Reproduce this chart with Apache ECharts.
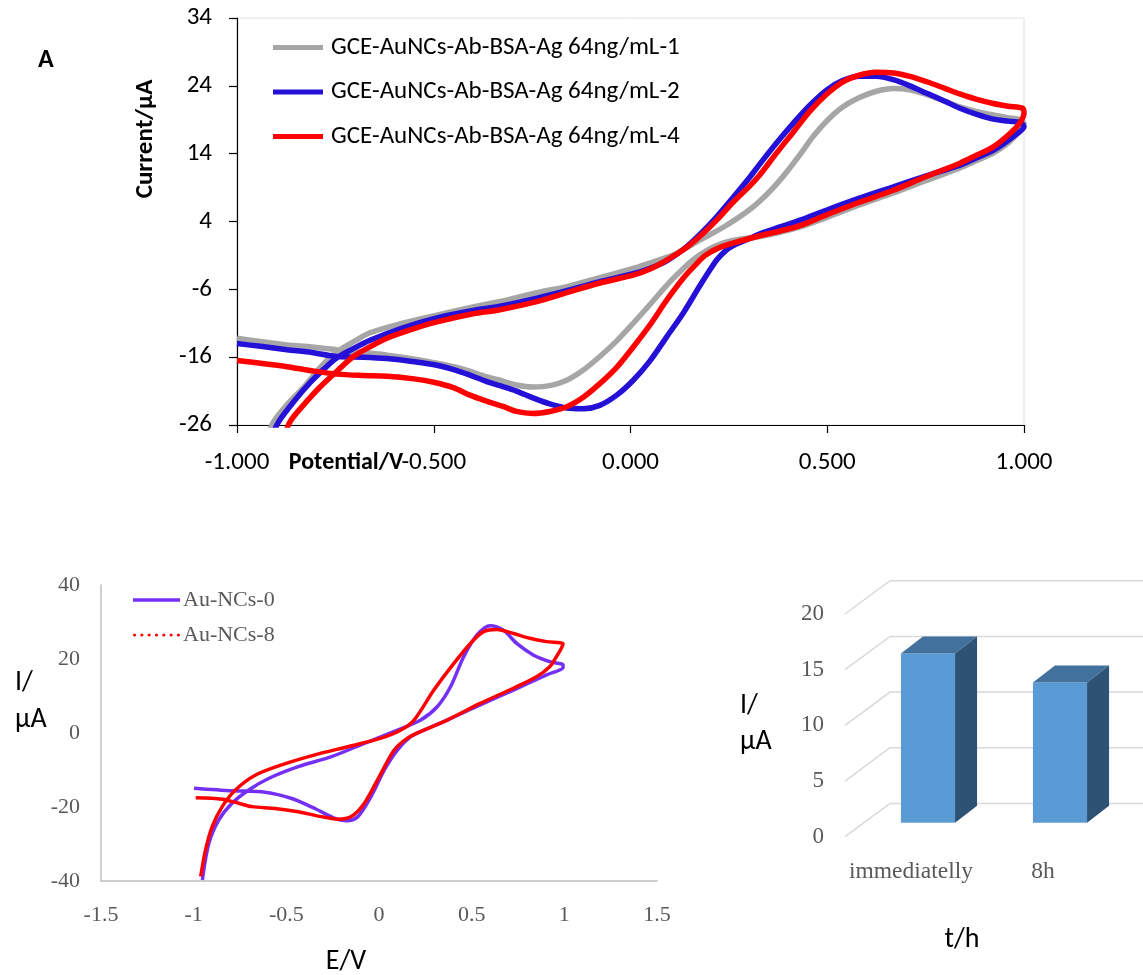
<!DOCTYPE html>
<html><head><meta charset="utf-8">
<script src="https://cdn.jsdelivr.net/npm/echarts@6/dist/echarts.min.js"></script>
<style>html,body{margin:0;padding:0;background:#fff}#c{width:1143px;height:975px}</style>
</head><body><div id="c"></div>
<script>
// ---------- Panel A (top) : cyclic voltammograms ----------
const topNames = ['GCE-AuNCs-Ab-BSA-Ag 64ng/mL-1', 'GCE-AuNCs-Ab-BSA-Ag 64ng/mL-2', 'GCE-AuNCs-Ab-BSA-Ag 64ng/mL-4'];
const topXTicks = [-1, -0.5, 0, 0.5, 1];
const topYTicks = [-26, -16, -6, 4, 14, 24, 34];

const curveRun1 = [[-0.925,-28.0],[-0.907,-25.5],[-0.87,-22.8],[-0.83,-20.4],[-0.79,-17.6],[-0.746,-15.2],[-0.70,-13.6],[-0.662,-12.4],[-0.58,-11.0],[-0.492,-9.8],[-0.40,-8.6],[-0.332,-7.8],[-0.238,-6.5],[-0.162,-5.6],[-0.08,-4.3],[0.007,-2.9],[0.06,-1.9],[0.117,-0.7],[0.177,1.3],[0.24,3.3],[0.304,5.8],[0.35,8.2],[0.39,10.8],[0.43,13.8],[0.465,16.6],[0.50,18.9],[0.54,20.9],[0.583,22.3],[0.625,23.2],[0.668,23.6],[0.71,23.4],[0.753,22.7],[0.80,21.7],[0.837,20.9],[0.88,20.2],[0.922,19.7],[0.96,19.3],[0.99,19.0],[1.0,18.4],[0.99,17.4],[0.96,15.6],[0.922,14.1],[0.88,13.0],[0.837,11.9],[0.75,10.0],[0.668,8.2],[0.58,6.4],[0.499,4.6],[0.431,3.2],[0.38,2.4],[0.329,1.8],[0.26,1.2],[0.22,0.5],[0.19,-0.4],[0.16,-1.6],[0.135,-2.9],[0.092,-5.4],[0.05,-8.2],[0.007,-11.0],[-0.035,-13.6],[-0.078,-15.9],[-0.12,-17.9],[-0.162,-19.4],[-0.205,-20.2],[-0.248,-20.4],[-0.29,-20.1],[-0.332,-19.4],[-0.365,-18.9],[-0.43,-17.7],[-0.492,-16.9],[-0.56,-16.2],[-0.619,-15.7],[-0.68,-15.3],[-0.746,-14.9],[-0.81,-14.5],[-0.873,-14.2],[-0.94,-13.7],[-1.0,-13.2]];

const curveRun2 = [[-0.91,-27.5],[-0.894,-25.5],[-0.855,-22.5],[-0.815,-19.8],[-0.78,-17.8],[-0.746,-16.1],[-0.70,-14.6],[-0.662,-13.5],[-0.58,-11.7],[-0.492,-10.2],[-0.40,-9.1],[-0.332,-8.5],[-0.238,-7.3],[-0.162,-6.2],[-0.08,-4.9],[0.007,-3.7],[0.05,-2.9],[0.092,-1.8],[0.143,0.3],[0.18,2.3],[0.219,4.7],[0.26,7.5],[0.304,10.6],[0.329,12.5],[0.37,15.5],[0.414,18.5],[0.455,21.1],[0.499,23.4],[0.54,24.8],[0.583,25.4],[0.625,25.4],[0.668,24.9],[0.71,24.0],[0.753,22.9],[0.80,21.7],[0.837,20.7],[0.88,19.8],[0.922,19.1],[0.96,18.8],[0.99,18.6],[1.0,18.0],[0.972,16.5],[0.922,14.5],[0.88,13.4],[0.837,12.3],[0.75,10.7],[0.668,9.1],[0.58,7.4],[0.499,5.7],[0.431,4.2],[0.38,3.2],[0.329,2.2],[0.295,1.3],[0.26,0.4],[0.24,-0.4],[0.22,-1.6],[0.20,-3.3],[0.177,-5.4],[0.135,-9.4],[0.092,-13.0],[0.05,-16.5],[0.007,-19.4],[-0.035,-21.6],[-0.078,-23.1],[-0.12,-23.6],[-0.162,-23.5],[-0.205,-22.9],[-0.248,-22.0],[-0.29,-21.0],[-0.332,-20.2],[-0.365,-19.6],[-0.43,-18.2],[-0.492,-17.2],[-0.56,-16.6],[-0.619,-16.2],[-0.68,-16.0],[-0.746,-15.9],[-0.81,-15.3],[-0.873,-14.9],[-0.94,-14.4],[-1.0,-14.0]];

const curveRun4 = [[-0.88,-27.8],[-0.865,-25.5],[-0.83,-23.0],[-0.789,-20.4],[-0.745,-18.0],[-0.704,-15.9],[-0.66,-14.4],[-0.619,-13.2],[-0.55,-11.8],[-0.492,-10.8],[-0.40,-9.6],[-0.332,-9.0],[-0.238,-7.8],[-0.162,-6.5],[-0.08,-5.1],[0.007,-3.9],[0.05,-3.0],[0.092,-1.7],[0.143,0.2],[0.18,2.0],[0.219,4.2],[0.26,6.8],[0.304,9.3],[0.329,10.9],[0.37,14.0],[0.414,17.2],[0.455,20.2],[0.499,22.8],[0.54,24.6],[0.583,25.6],[0.625,26.0],[0.668,25.9],[0.71,25.4],[0.753,24.6],[0.80,23.6],[0.837,22.8],[0.88,22.0],[0.922,21.4],[0.96,21.0],[0.997,20.7],[1.0,20.0],[0.99,18.6],[0.965,17.0],[0.922,15.0],[0.88,13.8],[0.837,12.6],[0.75,10.6],[0.668,8.6],[0.58,6.8],[0.499,5.0],[0.431,3.4],[0.38,2.6],[0.329,1.9],[0.26,0.8],[0.22,0.0],[0.19,-1.0],[0.165,-2.4],[0.135,-4.3],[0.092,-7.6],[0.05,-11.2],[0.007,-14.5],[-0.035,-17.5],[-0.078,-19.9],[-0.12,-21.9],[-0.162,-23.3],[-0.205,-24.0],[-0.248,-24.3],[-0.29,-24.0],[-0.322,-23.3],[-0.37,-22.4],[-0.408,-21.6],[-0.45,-20.5],[-0.50,-19.7],[-0.55,-19.2],[-0.619,-18.8],[-0.68,-18.7],[-0.746,-18.5],[-0.81,-18.0],[-0.873,-17.4],[-0.94,-16.9],[-1.0,-16.5]];

// ---------- Bottom-left : Au-NCs ----------
const blNames = ['Au-NCs-0', 'Au-NCs-8'];
const blXTicks = [-1.5, -1, -0.5, 0, 0.5, 1, 1.5];
const blYTicks = [-40, -20, 0, 20, 40];

const auNCs0 = [[-0.953,-39.7],[-0.918,-29.8],[-0.864,-23.5],[-0.793,-19.0],[-0.703,-15.4],[-0.596,-12.3],[-0.436,-9.1],[-0.257,-6.4],[-0.079,-2.8],[0.100,0.8],[0.225,3.5],[0.314,7.1],[0.386,12.5],[0.457,20.6],[0.529,26.5],[0.600,29.0],[0.671,27.8],[0.743,24.2],[0.832,21.1],[0.921,19.3],[0.993,18.4],[0.993,17.8],[0.904,15.7],[0.725,11.6],[0.546,7.6],[0.368,3.5],[0.243,0.8],[0.171,-1.0],[0.100,-4.6],[0.029,-10.0],[-0.043,-17.2],[-0.114,-22.6],[-0.177,-23.7],[-0.239,-23.1],[-0.346,-20.4],[-0.471,-17.7],[-0.614,-16.0],[-0.793,-15.6],[-0.998,-14.9]];

const auNCs8 = [[-0.962,-38.8],[-0.936,-31.6],[-0.900,-25.3],[-0.846,-19.9],[-0.775,-15.4],[-0.668,-11.4],[-0.525,-8.6],[-0.346,-5.9],[-0.168,-3.7],[0.011,-1.4],[0.118,0.8],[0.189,3.5],[0.296,11.6],[0.404,18.8],[0.493,24.2],[0.564,27.4],[0.636,28.0],[0.725,26.9],[0.814,25.6],[0.904,24.7],[0.993,24.1],[0.984,22.9],[0.957,20.6],[0.921,17.9],[0.850,15.2],[0.725,12.1],[0.546,8.0],[0.368,3.5],[0.225,0.4],[0.154,-1.4],[0.082,-4.6],[0.011,-10.9],[-0.079,-19.0],[-0.150,-22.6],[-0.221,-23.3],[-0.311,-22.6],[-0.436,-21.3],[-0.561,-20.4],[-0.686,-19.9],[-0.757,-19.0],[-0.846,-17.9],[-0.989,-17.5]];

// ---------- Bottom-right : stability bars ----------
const barCategories = ['immediatelly', '8h'];
const barValues = [15.2, 12.6];
const barYTicks = [0, 5, 10, 15, 20];

const SANS = 'Carlito, Lato, "Liberation Sans", sans-serif';
const SERIF = '"Liberation Serif", "Times New Roman", serif';
const GREYTXT = '#595959';

const dotIcon = 'path://' + [0,1,2,3,4,5,6].map(i => {
  const cx = i * 7 + 1.5;
  return `M${cx-1.5},1.5a1.5,1.5 0 1,0 3,0a1.5,1.5 0 1,0 -3,0Z`;
}).join('');

const chart = echarts.init(document.getElementById('c'), null, {renderer: 'canvas'});

chart.setOption({
  animation: false,
  backgroundColor: '#fff',
  grid: [
    {left: 237, top: 18, width: 787, height: 407, show: true, borderColor: '#e0e0e0', borderWidth: 1, backgroundColor: 'transparent', containLabel: false},
    {left: 101, top: 585, width: 556, height: 296, containLabel: false},
    {left: 845, top: 614, width: 264, height: 222.7, containLabel: false}
  ],
  xAxis: [
    {type: 'value', gridIndex: 0, min: topXTicks[0], max: topXTicks[topXTicks.length-1], interval: 0.5,
     axisLine: {show: true, onZero: false, lineStyle: {color: '#000', width: 1.2}},
     axisTick: {show: true, length: 8, lineStyle: {color: '#000', width: 1.2}},
     axisLabel: {show: true, margin: 25, color: '#000', fontFamily: SANS, fontSize: 25, formatter: v => v.toFixed(3)},
     splitLine: {show: false}},
    {type: 'value', gridIndex: 1, min: blXTicks[0], max: blXTicks[blXTicks.length-1], interval: 0.5,
     axisLine: {show: true, onZero: false, lineStyle: {color: '#bfbfbf', width: 1.5}},
     axisTick: {show: false},
     axisLabel: {show: true, margin: 23, color: GREYTXT, fontFamily: SERIF, fontSize: 22},
     splitLine: {show: false}},
    {type: 'category', gridIndex: 2, data: barCategories,
     axisLine: {show: false}, axisTick: {show: false},
     axisLabel: {show: true, interval: 0, margin: 23, color: GREYTXT, fontFamily: SERIF, fontSize: 23.5},
     splitLine: {show: false}}
  ],
  yAxis: [
    {type: 'value', gridIndex: 0, min: topYTicks[0], max: topYTicks[topYTicks.length-1], interval: 10,
     axisLine: {show: true, onZero: false, lineStyle: {color: '#000', width: 1.2}},
     axisTick: {show: true, length: 8, lineStyle: {color: '#000', width: 1.2}},
     axisLabel: {show: true, margin: 25, color: '#000', fontFamily: SANS, fontSize: 25},
     splitLine: {show: false}},
    {type: 'value', gridIndex: 1, min: blYTicks[0], max: blYTicks[blYTicks.length-1], interval: 20,
     axisLine: {show: true, onZero: false, lineStyle: {color: '#bfbfbf', width: 1.5}},
     axisTick: {show: false},
     axisLabel: {show: true, margin: 21, color: GREYTXT, fontFamily: SERIF, fontSize: 22},
     splitLine: {show: false}},
    {type: 'value', gridIndex: 2, min: barYTicks[0], max: barYTicks[barYTicks.length-1], interval: 5,
     axisLine: {show: false}, axisTick: {show: false},
     axisLabel: {show: true, margin: 21, color: GREYTXT, fontFamily: SERIF, fontSize: 23},
     splitLine: {show: false}}
  ],
  legend: [
    {data: topNames.map(n => ({name: n, icon: 'rect'})), orient: 'vertical', left: 268, top: 30,
     itemWidth: 50, itemHeight: 5, itemGap: 19.5, selectedMode: false,
     textStyle: {color: '#000', fontFamily: SANS, fontSize: 25, padding: [0,0,0,3]}},
    {data: [{name: blNames[0], icon: 'rect'}, {name: blNames[1], icon: dotIcon}], orient: 'vertical', left: 128, top: 584,
     itemWidth: 47, itemHeight: 3.5, itemGap: 13, selectedMode: false,
     textStyle: {color: GREYTXT, fontFamily: SERIF, fontSize: 22, padding: [0,0,0,-2]}}
  ],
  series: [
    {name: topNames[0], type: 'line', xAxisIndex: 0, yAxisIndex: 0, data: curveRun1, symbol: 'none', smooth: 0.3, clip: true,
     lineStyle: {color: '#a6a6a6', width: 5.5}, itemStyle: {color: '#a6a6a6'}, z: 2},
    {name: topNames[1], type: 'line', xAxisIndex: 0, yAxisIndex: 0, data: curveRun2, symbol: 'none', smooth: 0.3, clip: true,
     lineStyle: {color: '#2410d6', width: 5.5}, itemStyle: {color: '#2410d6'}, z: 3},
    {name: topNames[2], type: 'line', xAxisIndex: 0, yAxisIndex: 0, data: curveRun4, symbol: 'none', smooth: 0.3, clip: true,
     lineStyle: {color: '#ff0000', width: 5.5}, itemStyle: {color: '#ff0000'}, z: 4},
    {name: blNames[0], type: 'line', xAxisIndex: 1, yAxisIndex: 1, data: auNCs0, symbol: 'none', smooth: 0.3, clip: true,
     lineStyle: {color: '#7431f5', width: 3.5}, itemStyle: {color: '#7431f5'}, z: 2},
    {name: blNames[1], type: 'line', xAxisIndex: 1, yAxisIndex: 1, data: auNCs8, symbol: 'none', smooth: 0.3, clip: true,
     lineStyle: {color: '#ff0000', width: 3.5}, itemStyle: {color: '#ff0000'}, z: 3},
    {name: 'grid3d', type: 'custom', xAxisIndex: 2, yAxisIndex: 2, silent: true, z: 1,
     data: barYTicks.map(t => [0, t]),
     renderItem: (params, api) => {
       const p = api.coord([0, api.value(1)]);
       const x0 = params.coordSys.x;
       return {type: 'polyline', shape: {points: [[x0, p[1]], [x0 + 45, p[1] - 33.3], [1150, p[1] - 33.3]]},
               style: {stroke: '#d9d9d9', lineWidth: 1.5, fill: null}};
     }},
    {name: 'bars3d', type: 'custom', xAxisIndex: 2, yAxisIndex: 2, silent: true, z: 5,
     data: barValues.map((v, i) => [i, v]),
     renderItem: (params, api) => {
       const idx = api.value(0), v = api.value(1);
       const p0 = api.coord([idx, 0]);
       const p1 = api.coord([idx, v]);
       const w = api.size([1, 0])[0] * 0.41;
       const ox = 17, oy = -14, dx = 22, dy = -17;
       const xl = p0[0] - w / 2 + ox, xr = xl + w, yb = p0[1] + oy, yt = p1[1] + oy;
       return {type: 'group', children: [
         {type: 'polygon', shape: {points: [[xl, yb], [xr, yb], [xr, yt], [xl, yt]]}, style: {fill: '#5b9bd5'}},
         {type: 'polygon', shape: {points: [[xl, yt], [xr, yt], [xr + dx, yt + dy], [xl + dx, yt + dy]]}, style: {fill: '#41719c'}},
         {type: 'polygon', shape: {points: [[xr, yb], [xr + dx, yb + dy], [xr + dx, yt + dy], [xr, yt]]}, style: {fill: '#2e5273'}}
       ]};
     }}
  ],
  graphic: [
    {type: 'text', x: 38, y: 60, style: {text: 'A', font: 'bold 26px ' + SANS, fill: '#000', verticalAlign: 'middle'}},
    {type: 'text', x: 146, y: 139, rotation: Math.PI / 2, style: {text: 'Current/μA', font: 'bold 25px ' + SANS, fill: '#000', align: 'center', verticalAlign: 'middle'}},
    {type: 'text', x: 346, y: 463, style: {text: 'Potential/V', font: 'bold 24px ' + SANS, fill: '#000', align: 'center', verticalAlign: 'middle'}},
    {type: 'text', x: 15, y: 683, style: {text: 'I/', font: '28px ' + SANS, fill: '#000', verticalAlign: 'middle'}},
    {type: 'text', x: 15, y: 720, style: {text: 'μA', font: '28px ' + SANS, fill: '#000', verticalAlign: 'middle'}},
    {type: 'text', x: 346, y: 962, style: {text: 'E/V', font: '28px ' + SANS, fill: '#000', align: 'center', verticalAlign: 'middle'}},
    {type: 'text', x: 740, y: 706, style: {text: 'I/', font: '28px ' + SANS, fill: '#000', verticalAlign: 'middle'}},
    {type: 'text', x: 740, y: 742, style: {text: 'μA', font: '28px ' + SANS, fill: '#000', verticalAlign: 'middle'}},
    {type: 'text', x: 962, y: 940, style: {text: 't/h', font: '28px ' + SANS, fill: '#000', align: 'center', verticalAlign: 'middle'}}
  ]
});
</script></body></html>
